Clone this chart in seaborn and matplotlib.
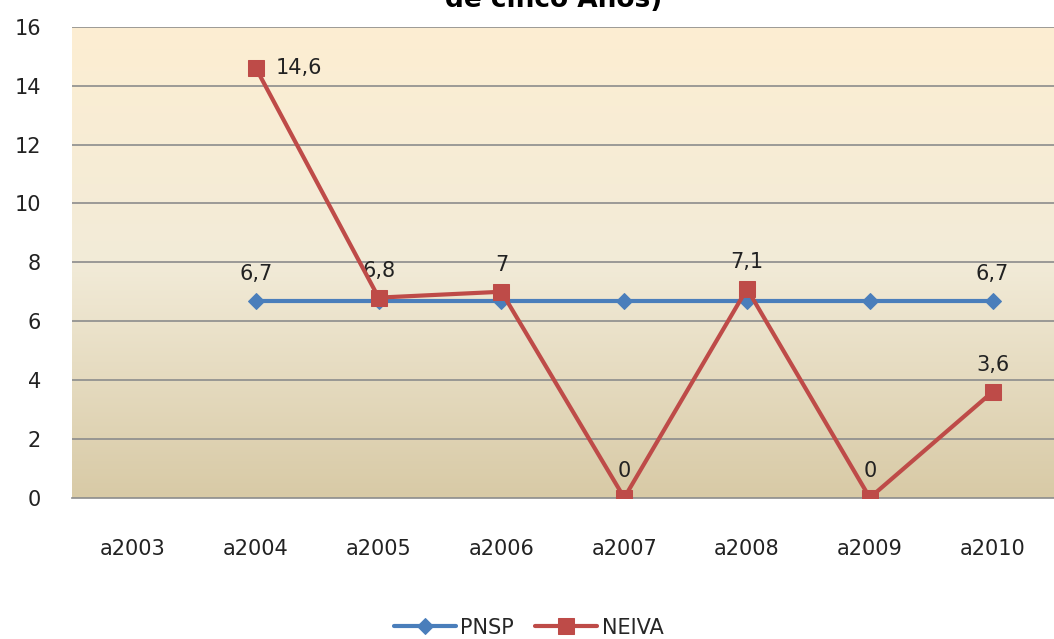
import numpy as np
import pandas as pd
import matplotlib.pyplot as plt
import seaborn as sns
from matplotlib.colors import LinearSegmentedColormap

years = ['a2003', 'a2004', 'a2005', 'a2006', 'a2007', 'a2008', 'a2009', 'a2010']
pnsp = [np.nan, 6.7, 6.7, 6.7, 6.7, 6.7, 6.7, 6.7]
neiva = [np.nan, 14.6, 6.8, 7.0, 0.0, 7.1, 0.0, 3.6]
pnsp_labels = {1: '6,7', 7: '6,7'}
neiva_labels = ['', '14,6', '6,8', '7', '0', '7,1', '0', '3,6']

blue = '#4A7EBB'
red = '#BE4B48'

df = pd.DataFrame({'pos': range(len(years)), 'PNSP': pnsp, 'NEIVA': neiva})

sns.set_style('white')
plt.rcParams['font.family'] = ['DejaVu Sans']

fig = plt.figure(figsize=(10.54, 6.39), dpi=100)
ax = fig.add_axes([0.068, 0.221, 0.932, 0.737])

# gradient background
grad = LinearSegmentedColormap.from_list('bg', ['#D8CAA6', '#F2EBD8', '#FDEED2'])
ax.imshow(np.linspace(0, 1, 256).reshape(-1, 1), cmap=grad, aspect='auto',
          extent=(-0.5, 7.5, 0, 16), origin='lower', zorder=0)

for y in range(2, 17, 2):
    ax.axhline(y, color='#8C8C8C', lw=1.2, zorder=1)

sns.lineplot(data=df, x='pos', y='PNSP', ax=ax, color=blue, lw=3, marker='D',
             markersize=8, markeredgecolor=blue, label='PNSP', zorder=3)
sns.lineplot(data=df, x='pos', y='NEIVA', ax=ax, color=red, lw=3, marker='s',
             markersize=11, markeredgecolor=red, label='NEIVA', zorder=4)

for i, t in pnsp_labels.items():
    ax.annotate(t, (i, pnsp[i]), xytext=(0, 12), textcoords='offset points',
                ha='center', va='bottom', fontsize=15, color='#222222')
for i, t in enumerate(neiva_labels):
    if not t:
        continue
    if i == 1:
        ax.annotate(t, (i, neiva[i]), xytext=(14, 0), textcoords='offset points',
                    ha='left', va='center', fontsize=15, color='#222222')
    else:
        ax.annotate(t, (i, neiva[i]), xytext=(0, 12), textcoords='offset points',
                    ha='center', va='bottom', fontsize=15, color='#222222')

ax.set_xlim(-0.5, 7.5)
ax.set_ylim(0, 16)
ax.set_xticks(range(len(years)))
ax.set_xticklabels(years)
ax.set_yticks(range(0, 17, 2))
ax.tick_params(axis='both', labelsize=15, colors='#222222', length=0)
ax.tick_params(axis='x', pad=30)
ax.tick_params(axis='y', pad=22)
ax.set_xlabel('')
ax.set_ylabel('')
for s in ['top', 'right', 'left']:
    ax.spines[s].set_visible(False)
ax.spines['bottom'].set_color('#8C8C8C')
ax.spines['bottom'].set_linewidth(1.2)

ax.legend(loc='upper center', bbox_to_anchor=(0.465, -0.215), ncol=2, frameon=False,
          fontsize=15, handlelength=3, columnspacing=1.0, handletextpad=0.2)

fig.text(0.525, 1 - 7 / 639, '(Porcentaje de Menores\nde cinco Años)', ha='center',
         va='baseline', fontsize=19, fontweight='bold', color='black')

fig.savefig('out.png', dpi=100)
